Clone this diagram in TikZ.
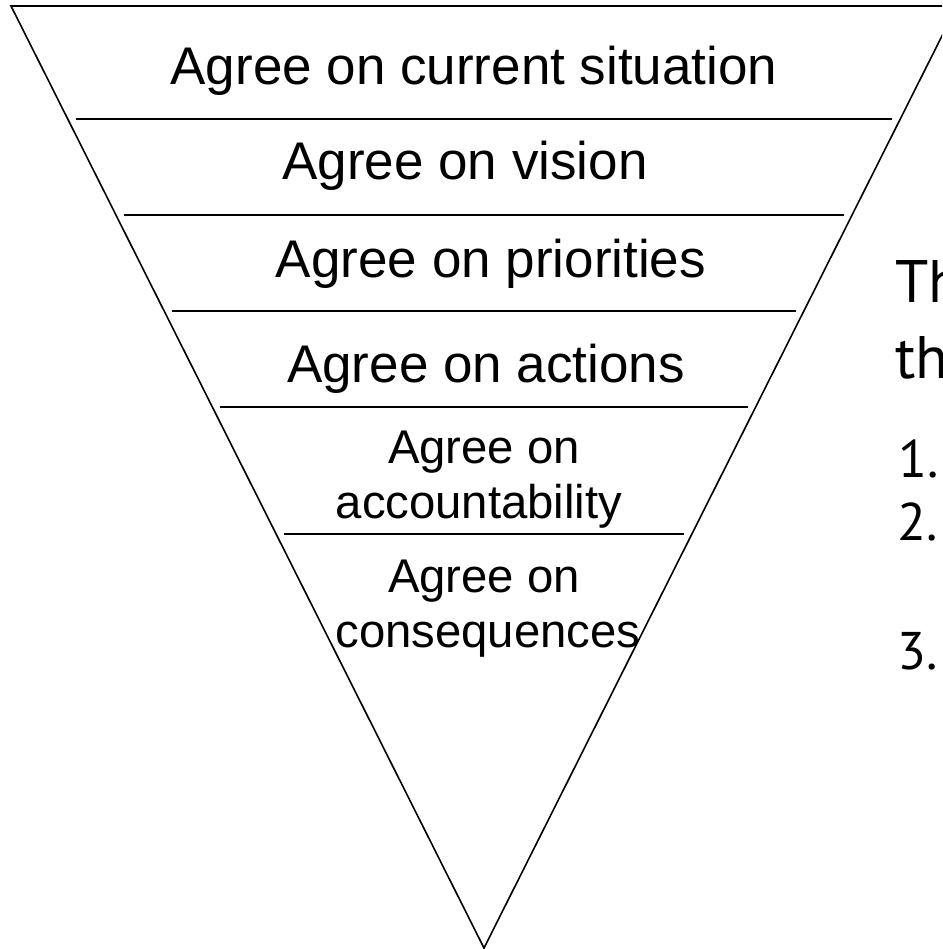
\documentclass[tikz,border=0pt]{standalone}
\usepackage{fontspec}
\setmainfont{Liberation Sans}
\newfontfamily\sidefont{PT Sans}
\tikzset{
  layer/.style={anchor=base, inner sep=0pt, font=\fontsize{53}{60}\selectfont},
  sublayer/.style={anchor=base, inner sep=0pt, font=\fontsize{47.3}{55}\selectfont},
  sidetitle/.style={anchor=base west, inner sep=0pt, font=\sidefont\fontsize{60}{76}\selectfont},
  sideitem/.style={anchor=base west, inner sep=0pt, font=\sidefont\fontsize{53}{63}\selectfont}
}
\begin{document}
\begin{tikzpicture}[x=1pt,y=-1pt]
\useasboundingbox (0,0) rectangle (942,949);
\clip (0,0) rectangle (942,949);
% funnel
\draw [line width=1.6pt, line join=miter] (11,6) -- (957,6) -- (484,948) -- cycle;
\foreach \y/\h in {119/408,215/360,311/312,407/264,534/200}
  \draw [line width=2pt] (484-\h,\y) -- (484+\h,\y);
% layers
\node [layer] (current) at (474,85) {Agree on current situation};
\node [layer] (vision) at (465,180) {Agree on vision};
\node [layer] (priorities) at (491,277) {Agree on priorities};
\node [layer] (actions) at (486,382) {Agree on actions};
\node [sublayer] (account1) at (484,463) {Agree on};
\node [sublayer] (account2) at (479,518) {accountability};
\node [sublayer] (conseq1) at (484,592) {Agree on};
\node [sublayer] (conseq2) at (488,647) {consequences};
% text on the right
\node [sidetitle] (title1) at (895,302) {Th};
\node [sidetitle] (title2) at (895,378) {th};
\node [sideitem] (item1) at (898,477) {1.};
\node [sideitem] (item2) at (897,540) {2.};
\node [sideitem] (item3) at (897,669) {3.};
\end{tikzpicture}
\end{document}
